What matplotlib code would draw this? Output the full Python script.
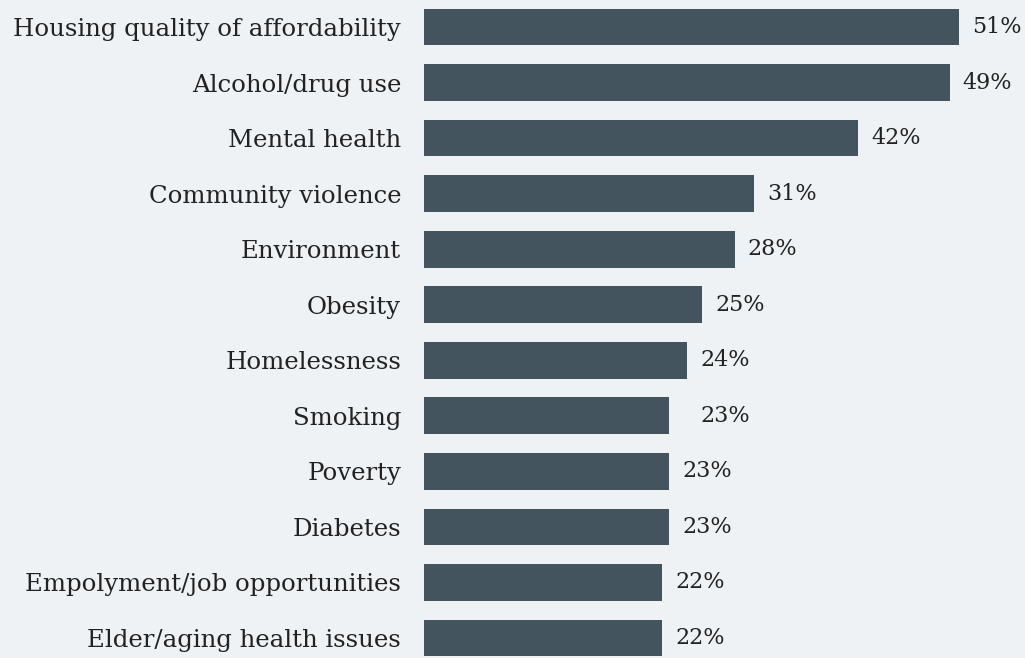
import matplotlib
matplotlib.use("Agg")
import matplotlib.pyplot as plt
from matplotlib import font_manager
from matplotlib.transforms import offset_copy

categories = [
    "Housing quality of affordability",
    "Alcohol/drug use",
    "Mental health",
    "Community violence",
    "Environment",
    "Obesity",
    "Homelessness",
    "Smoking",
    "Poverty",
    "Diabetes",
    "Empolyment/job opportunities",
    "Elder/aging health issues",
]
# bar lengths as drawn (percent)
values = [51.0, 50.1, 41.4, 31.5, 29.6, 26.5, 25.1, 23.4, 23.4, 23.4, 22.7, 22.7]
# printed labels
value_labels = ["51%", "49%", "42%", "31%", "28%", "25%", "24%", "23%", "23%", "23%", "22%", "22%"]

BG = "#eef2f5"
BAR = "#44545f"
TXT = "#222222"

names = {f.name for f in font_manager.fontManager.ttflist}
if "DejaVu Serif Condensed" in names:
    FONT = ["DejaVu Serif Condensed"]
    CAT_FS = 19.0
    VAL_FS = 18.0
else:
    FONT = ["DejaVu Serif"]
    CAT_FS = 17.6
    VAL_FS = 16.0

W, H = 1025, 658
fig = plt.figure(figsize=(W / 100, H / 100), dpi=100, facecolor=BG)
left_px = 424
ax = fig.add_axes([left_px / W, 0, 1 - left_px / W, 1])
ax.set_facecolor(BG)

pitch = 55.55
first_center = 27
ypos = list(range(len(categories)))
ax.barh(ypos, values, height=36.7 / pitch, color=BAR, align="center")

scale = 535 / 51.0  # px per percent
ax.set_xlim(0, (W - left_px) / scale)
ax.set_ylim(H / pitch - first_center / pitch, -first_center / pitch)

for s in ax.spines.values():
    s.set_visible(False)
ax.set_xticks([])
ax.set_yticks(ypos)
ax.set_yticklabels(categories, fontsize=CAT_FS, color=TXT, family=FONT)
ax.tick_params(axis="y", length=0, pad=16.5)

for i, (v, lab) in enumerate(zip(values, value_labels)):
    extra = 18 if categories[i] == "Smoking" else 0
    tr = offset_copy(ax.transData, fig=fig, x=(13 + extra) * 0.72, y=0, units="points")
    ax.text(v, i, lab, transform=tr, ha="left", va="center", fontsize=VAL_FS,
            color=TXT, family=FONT)

fig.savefig("out.png", dpi=100, facecolor=BG)
